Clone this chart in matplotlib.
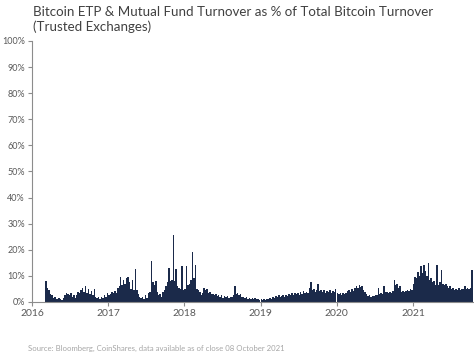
import numpy as np
import pandas as pd
import matplotlib
matplotlib.use("Agg")
import matplotlib.pyplot as plt
import matplotlib.dates as mdates

# -------------------------------
# Data (weekly, % of total bitcoin turnover)
# -------------------------------
vals_2016 = [8.2, 5.4, 4.5, 3.0, 2.5, 1.5, 2.0, 1.0, 1.2, 1.5, 1.0, 0.8, 1.5, 2.5, 3.5,
             3.0, 2.5, 3.4, 2.0, 2.5, 1.5, 2.5, 4.0, 3.5, 4.5, 5.5, 4.0, 6.0, 3.5, 5.0,
             3.0, 4.2, 2.5, 4.8, 2.0, 1.5, 2.0, 1.2, 2.0, 1.5, 2.5, 2.0, 3.5]
vals_2017 = [2.5, 3.0, 4.0, 3.5, 4.2, 3.5, 5.4, 6.0, 9.7, 6.5, 8.5, 7.0, 9.0, 9.7, 7.5,
             5.0, 8.5, 4.5, 12.7, 4.5, 3.0, 2.0, 1.5, 2.0, 1.2, 2.5, 1.5, 3.5, 4.0, 15.8,
             7.8, 6.5, 8.0, 4.0, 2.5, 3.0, 2.0, 4.0, 4.6, 6.0, 7.5, 13.0, 8.0, 8.5, 25.7,
             8.0, 12.5, 6.0, 5.4, 5.0, 13.6, 4.6]
vals_2018 = [5.0, 13.8, 6.5, 7.0, 8.5, 19.3, 9.0, 14.2, 5.0, 4.5, 4.0, 2.5, 3.5, 5.5, 4.5,
             5.0, 3.5, 4.0, 3.0, 3.2, 2.5, 3.0, 2.2, 2.7, 1.8, 2.5, 1.6, 2.2, 1.8, 2.4,
             1.6, 2.0, 1.8, 2.5, 6.3, 3.0, 3.5, 2.8, 3.2, 1.8, 2.0, 1.5, 1.8, 1.2, 1.6,
             1.2, 1.5, 1.0, 1.4, 1.0, 1.2, 0.9]
vals_2019 = [1.0, 0.8, 1.2, 0.9, 1.3, 1.0, 1.5, 1.2, 2.0, 1.6, 2.2, 1.8, 2.5, 1.8, 2.3,
             2.8, 2.0, 2.5, 2.2, 3.2, 2.6, 3.5, 2.8, 3.3, 3.0, 3.6, 2.8, 3.8, 3.2, 4.2,
             3.5, 4.0, 3.5, 5.5, 7.8, 4.5, 5.0, 3.8, 4.5, 6.9, 4.2, 4.6, 3.8, 4.5, 3.6,
             4.2, 3.8, 4.5, 3.5, 4.3, 3.8, 5.0]
vals_2020 = [3.5, 3.0, 3.3, 2.8, 3.4, 3.0, 3.5, 4.2, 4.6, 4.0, 4.8, 4.2, 5.5, 6.0, 5.5,
             6.5, 5.8, 6.0, 4.5, 4.0, 3.0, 2.2, 2.5, 2.0, 2.4, 2.2, 2.6, 2.5, 5.5, 3.0,
             3.6, 3.2, 6.0, 3.8, 4.0, 3.5, 4.0, 3.6, 4.2, 8.5, 6.5, 7.0, 5.5, 6.0, 4.0,
             4.2, 3.8, 4.4, 4.6, 4.2, 5.0, 4.5]
vals_2021 = [7.0, 9.7, 9.0, 11.5, 10.0, 13.6, 11.0, 14.2, 12.0, 10.0, 14.9, 8.5, 9.0, 7.5,
             8.0, 6.5, 14.0, 6.5, 7.5, 12.2, 7.0, 6.5, 7.0, 6.0, 5.5, 6.0, 5.0, 5.5, 4.6,
             5.0, 4.5, 5.2, 4.6, 5.0, 4.8, 6.0, 5.0, 5.5, 4.8, 5.5, 12.3]

year_starts = ["2016-03-05", "2017-01-01", "2018-01-01", "2019-01-01", "2020-01-01", "2021-01-01"]
year_vals = [vals_2016, vals_2017, vals_2018, vals_2019, vals_2020, vals_2021]

dates = []
values = []
for start, vals in zip(year_starts, year_vals):
    dates.extend(pd.date_range(start, periods=len(vals), freq="7D"))
    values.extend(vals)

navy = "#1b2a4a"
axis_grey = "#8c8c8c"
text_grey = "#595959"

# -------------------------------
# Plot
# -------------------------------
fig = plt.figure(figsize=(4.74, 3.53), dpi=100)
ax = fig.add_axes([0.0675, 0.1445, 0.93, 0.7395])

ax.bar(mdates.date2num(dates), values, width=7.2, align="edge",
       color=navy, linewidth=0)

ax.set_ylim(0, 100)
ax.set_yticks(np.arange(0, 101, 10))
ax.set_yticklabels([f"{v}%" for v in range(0, 101, 10)])
ax.set_xlim(mdates.date2num(pd.Timestamp("2016-01-01")),
            mdates.date2num(pd.Timestamp("2021-10-15")))
ax.xaxis.set_major_locator(mdates.YearLocator())
ax.xaxis.set_major_formatter(mdates.DateFormatter("%Y"))

for side in ["top", "right"]:
    ax.spines[side].set_visible(False)
for side in ["left", "bottom"]:
    ax.spines[side].set_color(axis_grey)
    ax.spines[side].set_linewidth(0.8)

ax.tick_params(axis="y", length=3, width=0.8, color=axis_grey,
               labelsize=6.5, labelcolor=text_grey, pad=2)
ax.tick_params(axis="x", length=3, width=0.8, color=axis_grey,
               labelsize=7.5, labelcolor=text_grey, pad=2)
for lab in ax.get_xticklabels() + ax.get_yticklabels():
    lab.set_fontfamily("Lato")

fig.text(0.07, 0.983, "Bitcoin ETP & Mutual Fund Turnover as % of Total Bitcoin Turnover\n(Trusted Exchanges)",
         ha="left", va="top", fontsize=9.6, color="#404040", family="Lato",
         linespacing=1.2)
fig.text(0.06, 0.004, "Source: Bloomberg, CoinShares, data available as of close 08 October 2021",
         ha="left", va="bottom", fontsize=5.6, color="#a6a6a6", family="Lato")

fig.savefig("out.png", dpi=100)
